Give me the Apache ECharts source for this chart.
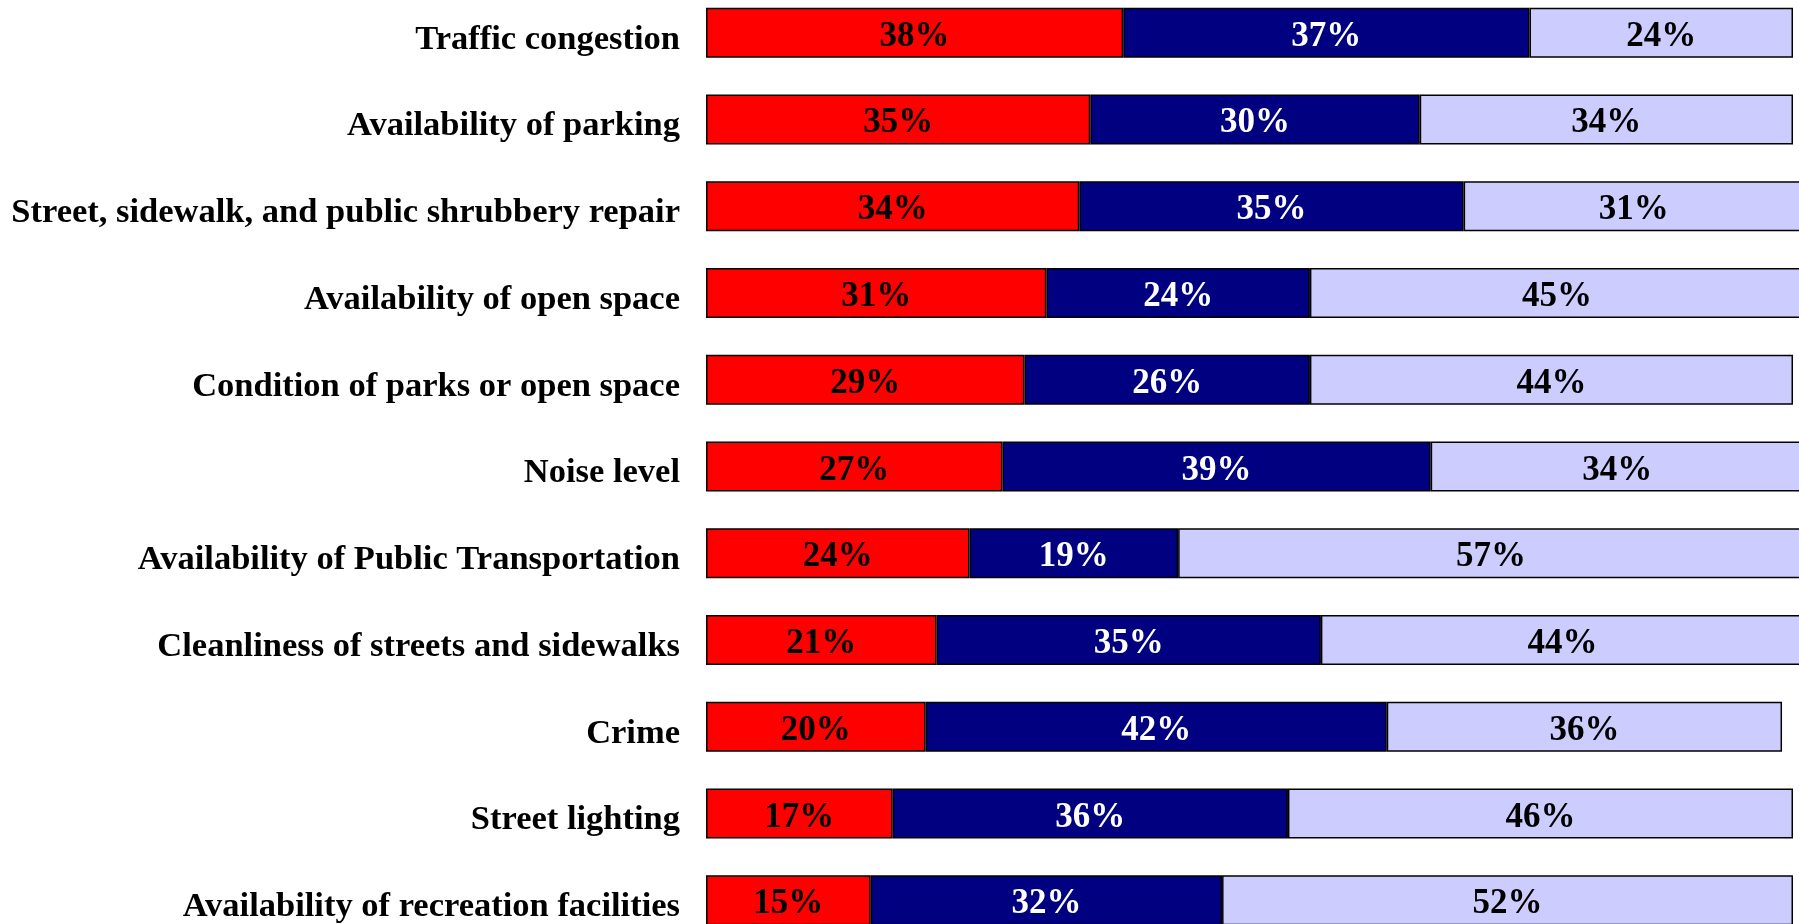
<!DOCTYPE html>
<html>
<head>
<meta charset="utf-8">
<script src="https://cdn.jsdelivr.net/npm/echarts@6/dist/echarts.min.js"></script>
<style>
  html, body { margin: 0; padding: 0; background: #fff; }
  #chart { width: 1799px; height: 924px; }
</style>
</head>
<body>
<div id="chart"></div>
<script>
// categories, top to bottom
const categories = [
  'Traffic congestion',
  'Availability of parking',
  'Street, sidewalk, and public shrubbery repair',
  'Availability of open space',
  'Condition of parks or open space',
  'Noise level',
  'Availability of Public Transportation',
  'Cleanliness of streets and sidewalks',
  'Crime',
  'Street lighting',
  'Availability of recreation facilities'
];
const redValues = [38, 35, 34, 31, 29, 27, 24, 21, 20, 17, 15];
const navyValues = [37, 30, 35, 24, 26, 39, 19, 35, 42, 36, 32];
const lightValues = [24, 34, 31, 45, 44, 34, 57, 44, 36, 46, 52];

const font = "'Liberation Serif', 'Times New Roman', serif";

const chart = echarts.init(document.getElementById('chart'));

const seg = (name, data, color, textColor) => ({
  name: name,
  type: 'bar',
  stack: 'all',
  data: data,
  barWidth: 50,
  itemStyle: { color: color, borderColor: '#000', borderWidth: 1.5 },
  label: {
    show: true,
    position: 'inside',
    formatter: '{c}%',
    offset: [0, 4],
    color: textColor,
    fontFamily: font,
    fontWeight: 'bold',
    fontSize: 35
  },
  emphasis: { disabled: true }
});

chart.setOption({
  animation: false,
  backgroundColor: '#fff',
  grid: { left: 706, width: 1098, top: -10.7, height: 954.4, outerBoundsMode: 'none' },
  xAxis: {
    type: 'value',
    min: 0,
    max: 100,
    show: false
  },
  yAxis: {
    type: 'category',
    inverse: true,
    data: categories,
    axisLine: { show: false },
    axisTick: { show: false },
    axisLabel: {
      margin: 26,
      formatter: v => '{t|' + v + '}',
      rich: {
        t: {
          color: '#000',
          fontFamily: font,
          fontWeight: 'bold',
          fontSize: 34.5,
          padding: [14, 0, 0, 0]
        }
      }
    }
  },
  series: [
    seg('red', redValues, '#ff0000', '#000'),
    seg('navy', navyValues, '#000080', '#fff'),
    seg('light', lightValues, '#ccccff', '#000')
  ]
});
</script>
</body>
</html>
